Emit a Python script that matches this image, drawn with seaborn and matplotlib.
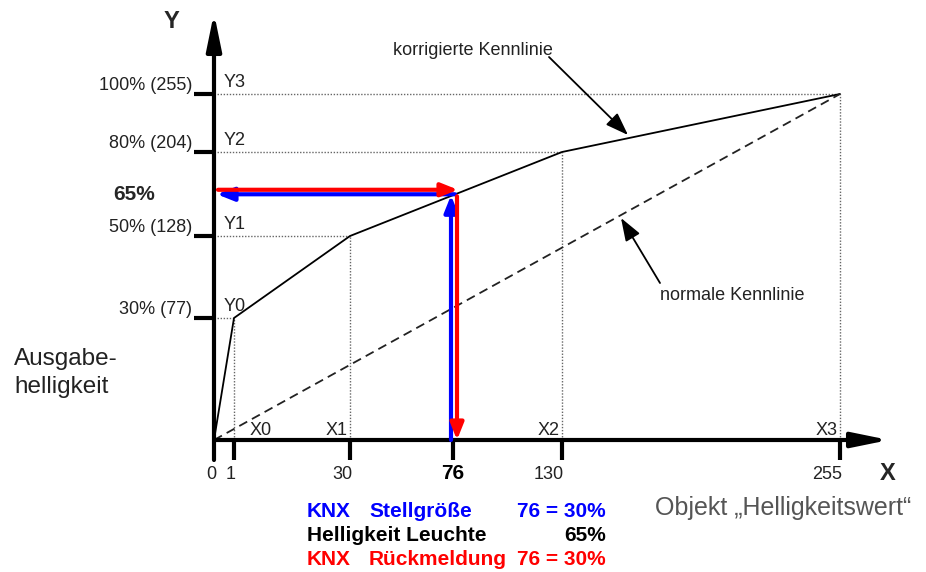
import numpy as np
import matplotlib
matplotlib.use('Agg')
import matplotlib.pyplot as plt
import seaborn as sns
from matplotlib.transforms import offset_copy

# Kennlinie points (X0..X3 / Y0..Y3, with origin)
x_points = [0, 1, 30, 130, 255]
y_points = [0, 77, 128, 204, 255]
x_point_names = ['X0', 'X1', 'X2', 'X3']
y_point_names = ['Y0', 'Y1', 'Y2', 'Y3']
y_tick_labels = ['30% (77)', '50% (128)', '80% (204)', '100% (255)']
x_ticks = [0, 1, 30, 76, 130, 255]
x_tick_labels = ['0', '1', '30', '76', '130', '255']
normal_x = [0, 255]
normal_y = [0, 255]
knx_value = 76
brightness_pct = 65

sns.set_style('white')
plt.rcParams['font.family'] = ['Liberation Sans', 'DejaVu Sans']

W, H = 926, 572
fig = plt.figure(figsize=(W / 100, H / 100), dpi=100)
ax = fig.add_axes([0, 0, 1, 1])

# the drawing is schematic, not to scale -> piecewise mapping value -> pixel
x_knots = [-1000, 0, 1, 30, 76, 130, 255, 1255]
x_pix = [-786, 214, 234, 350, 453, 562, 840, 1840]
y_knots = [-1000, 0, 77, 128, 204, 255, 1255]
y_pix = [-868, 132, 254, 336, 420, 478, 1478]


def interp(a, b):
    return lambda v: np.interp(v, a, b)


ax.set_xscale('function', functions=(interp(x_knots, x_pix), interp(x_pix, x_knots)))
ax.set_yscale('function', functions=(interp(y_knots, y_pix), interp(y_pix, y_knots)))

# dotted helper lines
for xv, yv in zip(x_points[1:], y_points[1:]):
    ax.plot([0, xv], [yv, yv], color='#666666', lw=1.0, ls=(0, (1, 1.2)))
    ax.plot([xv, xv], [0, yv], color='#666666', lw=1.0, ls=(0, (1, 1.2)))

# curves
sns.lineplot(x=x_points, y=y_points, color='black', lw=1.3, ax=ax)
sns.lineplot(x=normal_x, y=normal_y, color='#222222', lw=1.3, ax=ax)
ax.lines[-1].set_dashes([5, 3])

# axes with arrows
axis_kw = dict(color='black', lw=3, shrinkA=0, shrinkB=0, mutation_scale=10)
ax.annotate('', xy=(0, 336), xytext=(0, -20),
            arrowprops=dict(arrowstyle='-|>,head_length=2.2,head_width=0.45', **axis_kw))
ax.annotate('', xy=(304, 0), xytext=(0, 0),
            arrowprops=dict(arrowstyle='-|>,head_length=2.2,head_width=0.45', **axis_kw))

for v in y_points[1:]:
    ax.plot([-20, 0], [v, v], color='black', lw=3, solid_capstyle='butt')
for v in x_ticks[1:]:
    ax.plot([v, v], [0, -20], color='black', lw=3, solid_capstyle='butt')

txt = '#222222'
for v, lab in zip(y_points[1:], y_tick_labels):
    ax.annotate(lab, xy=(0, v), xytext=(-22, 4), textcoords='offset pixels',
                ha='right', va='baseline', fontsize=13, color=txt)
for v, lab in zip(y_points[1:], y_point_names):
    ax.annotate(lab, xy=(0, v), xytext=(10, 7), textcoords='offset pixels',
                ha='left', va='baseline', fontsize=13, color=txt)
for i, (v, lab) in enumerate(zip(x_points[1:], x_point_names)):
    if i == 0:
        ax.annotate(lab, xy=(v, 0), xytext=(16, 5), textcoords='offset pixels',
                    ha='left', va='baseline', fontsize=13, color=txt)
    else:
        ax.annotate(lab, xy=(v, 0), xytext=(-2, 5), textcoords='offset pixels',
                    ha='right', va='baseline', fontsize=13, color=txt)
for v, lab in zip(x_ticks, x_tick_labels):
    if v == knx_value:
        ax.annotate(lab, xy=(v, 0), xytext=(0, -39), textcoords='offset pixels',
                    ha='center', va='baseline', fontsize=15, fontweight='bold', color='black')
    else:
        ax.annotate(lab, xy=(v, 0), xytext=(2, -39), textcoords='offset pixels',
                    ha='right', va='baseline', fontsize=13, color=txt)

# KNX arrows
level = brightness_pct / 100 * 255


def tr(dx, dy):
    return offset_copy(ax.transData, fig=fig, x=dx, y=dy, units='dots')


akw = dict(arrowstyle='-|>,head_length=1.0,head_width=0.4', lw=3, shrinkA=0, shrinkB=0, mutation_scale=10)
ax.annotate('', xy=(knx_value, level), xycoords=tr(-2, -1), xytext=(knx_value, 0), textcoords=tr(-2, 0),
            arrowprops=dict(color='#0000ff', **akw))
ax.annotate('', xy=(0, level), xycoords=tr(3, 0), xytext=(knx_value, level), textcoords=tr(2, 0),
            arrowprops=dict(color='#0000ff', **akw))
ax.annotate('', xy=(knx_value, level), xycoords=tr(5, 4.5), xytext=(0, level), textcoords=tr(4, 4.5),
            arrowprops=dict(color='#ff0000', **akw))
ax.annotate('', xy=(knx_value, 0), xycoords=tr(4, 0), xytext=(knx_value, level), textcoords=tr(4, -2),
            arrowprops=dict(color='#ff0000', **akw))


def ft(x, y, s, **kw):
    return fig.text(x / W, 1 - y / H, s, **kw)


ft(171, 21, 'Y', ha='center', va='center', fontsize=17, fontweight='bold')
ft(888, 474, 'X', ha='center', va='center', fontsize=17, fontweight='bold')
ft(113, 200, f'{brightness_pct}%', ha='left', va='baseline', fontsize=15, fontweight='bold')
ft(14, 365, 'Ausgabe-', ha='left', va='baseline', fontsize=17.5, color=txt)
ft(14, 393, 'helligkeit', ha='left', va='baseline', fontsize=17.5, color=txt)

# callouts
ft(393, 55, 'korrigierte Kennlinie', ha='left', va='baseline', fontsize=13, color=txt)
ax.annotate('', xy=(628, H - 135), xycoords='figure pixels', xytext=(549, H - 57), textcoords='figure pixels',
            arrowprops=dict(arrowstyle='-|>,head_length=1.4,head_width=0.5', lw=1.3, color='black',
                            mutation_scale=10, shrinkA=0, shrinkB=0))
ft(660, 300, 'normale Kennlinie', ha='left', va='baseline', fontsize=13, color=txt)
ax.annotate('', xy=(621, H - 218), xycoords='figure pixels', xytext=(660, H - 283), textcoords='figure pixels',
            arrowprops=dict(arrowstyle='-|>,head_length=1.4,head_width=0.5', lw=1.3, color='black',
                            mutation_scale=10, shrinkA=0, shrinkB=0))

# legend text below
pct = round(knx_value / 255 * 100)
bold = dict(va='baseline', fontsize=15, fontweight='bold')
ft(307, 517, 'KNX', color='#0000ff', ha='left', **bold)
ft(369, 517, 'Stellgröße', color='#0000ff', ha='left', **bold)
ft(606, 517, f'{knx_value} = {pct}%', color='#0000ff', ha='right', **bold)
ft(307, 541, 'Helligkeit Leuchte', color='black', ha='left', **bold)
ft(606, 541, f'{brightness_pct}%', color='black', ha='right', **bold)
ft(307, 565, 'KNX', color='#ff0000', ha='left', **bold)
ft(369, 565, 'Rückmeldung', color='#ff0000', ha='left', **bold)
ft(606, 565, f'{knx_value} = {pct}%', color='#ff0000', ha='right', **bold)
ft(655, 515, 'Objekt „Helligkeitswert“', ha='left', va='baseline', fontsize=18, color='#555555')

ax.set_xlim(np.interp(0, x_pix, x_knots), np.interp(W, x_pix, x_knots))
ax.set_ylim(np.interp(0, y_pix, y_knots), np.interp(H, y_pix, y_knots))
ax.set_axis_off()

fig.savefig('out.png', dpi=100)
